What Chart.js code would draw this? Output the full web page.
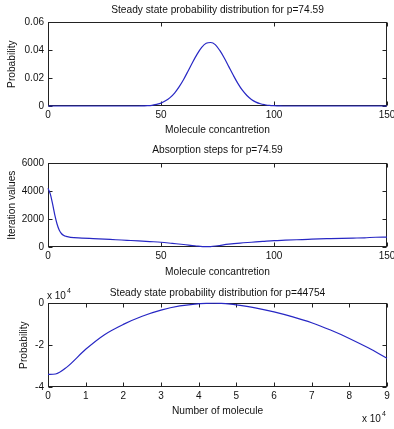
<!DOCTYPE html>
<html>
<head>
<meta charset="utf-8">
<script src="https://cdn.jsdelivr.net/npm/chart.js@4.4.1/dist/chart.umd.min.js"></script>
<style>
  body { margin: 0; background: #fff; }
  #wrap { position: relative; width: 394px; height: 429px; background: #fff; }
  canvas { position: absolute; left: 0; }
</style>
</head>
<body>
<div id="wrap">
  <canvas id="probChart" width="394" height="140" style="top:0px"></canvas>
  <canvas id="stepsChart" width="394" height="140" style="top:140px"></canvas>
  <canvas id="bigChart" width="394" height="149" style="top:280px"></canvas>
</div>
<script>
// top plot: steady state distribution, p=74.59
const concX = [0, 40, 42, 44, 46, 48, 50, 52, 54, 56, 58, 60, 62, 64, 66, 68, 70, 72, 74, 76, 78, 80, 82, 84, 86, 88, 90, 92, 94, 96, 98, 100, 102, 104, 150];
const probY = [0, 0, 0.0001, 0.0002, 0.0005, 0.0012, 0.0021, 0.0037, 0.0060, 0.0093, 0.0137, 0.0190, 0.0251, 0.0314, 0.0372, 0.0420, 0.0450, 0.0455, 0.0440, 0.0398, 0.0344, 0.0282, 0.0220, 0.0162, 0.0113, 0.0075, 0.0047, 0.0028, 0.0016, 0.0009, 0.0004, 0.0002, 0.0001, 0, 0];

// middle plot: absorption steps
const stepsX = [0, 1, 2, 3, 4, 5, 6, 7, 8, 10, 15, 20, 25, 30, 35, 40, 45, 50, 55, 60, 65, 70, 72, 75, 80, 85, 90, 95, 100, 105, 110, 115, 120, 125, 130, 135, 140, 145, 150];
const stepsY = [4200, 3800, 3100, 2300, 1650, 1200, 950, 820, 760, 690, 640, 600, 560, 520, 480, 440, 390, 340, 260, 180, 90, 20, 30, 90, 200, 280, 340, 400, 460, 490, 520, 550, 580, 600, 620, 640, 660, 700, 710];

// bottom plot: p=44754
const moleculeX = [0, 2000, 5000, 10000, 15000, 20000, 25000, 30000, 35000, 39000, 42000, 44000, 46000, 48500, 50000, 55000, 60000, 65000, 70000, 75000, 80000, 85000, 90000];
const bigProbY = [-34000, -33800, -30500, -22000, -15000, -10100, -6200, -3300, -1300, -400, -50, 0, -50, -400, -750, -2200, -4100, -6500, -9300, -12800, -16800, -21300, -26300];

const FONT = "'Liberation Sans', Arial, sans-serif";
const LINE_COLOR = '#2727c4';
Chart.defaults.font.family = FONT;
Chart.defaults.font.size = 10;
Chart.defaults.color = '#111';

// matlab style box with inward ticks
const matlabAxes = {
  id: 'matlabAxes',
  beforeDatasetsDraw(chart) {
    const { ctx, chartArea: a, scales: { x, y } } = chart;
    const l = Math.round(a.left) + 0.5, r = Math.round(a.right) - 0.5;
    const t = Math.round(a.top) + 0.5, b = Math.round(a.bottom) - 0.5;
    ctx.save();
    ctx.strokeStyle = '#222';
    ctx.lineWidth = 1;
    ctx.strokeRect(l, t, r - l, b - t);
    ctx.beginPath();
    x.ticks.forEach(tk => {
      const px = Math.round(x.getPixelForValue(tk.value)) + 0.5;
      ctx.moveTo(px, b); ctx.lineTo(px, b - 4);
      ctx.moveTo(px, t); ctx.lineTo(px, t + 4);
    });
    y.ticks.forEach(tk => {
      const py = Math.round(y.getPixelForValue(tk.value)) + 0.5;
      ctx.moveTo(l, py); ctx.lineTo(l + 4, py);
      ctx.moveTo(r, py); ctx.lineTo(r - 4, py);
    });
    ctx.stroke();
    ctx.restore();
  }
};

// "x 10^4" exponent labels for the bottom plot
const expLabels = {
  id: 'expLabels',
  afterDraw(chart) {
    const { ctx } = chart;
    ctx.save();
    ctx.fillStyle = '#111';
    ctx.textBaseline = 'middle';
    ctx.textAlign = 'left';
    function draw(x0, y0) {
      ctx.font = '10px ' + FONT;
      ctx.fillText('x 10', x0, y0);
      const w = ctx.measureText('x 10').width;
      ctx.font = '7px ' + FONT;
      ctx.fillText('4', x0 + w + 1, y0 - 5);
    }
    draw(47, 16);
    draw(362, 139);
    ctx.restore();
  }
};

function makeChart(id, xs, ys, opts) {
  const points = xs.map((v, i) => ({ x: v, y: ys[i] }));
  return new Chart(document.getElementById(id), {
    type: 'line',
    data: {
      datasets: [{
        data: points,
        borderColor: LINE_COLOR,
        borderWidth: 1.2,
        pointRadius: 0,
        fill: false,
        cubicInterpolationMode: 'monotone',
        clip: false
      }]
    },
    options: {
      responsive: false,
      animation: false,
      devicePixelRatio: 1,
      layout: { padding: { left: 0, right: 7, top: 0, bottom: 0 } },
      plugins: {
        legend: { display: false },
        tooltip: { enabled: false },
        title: {
          display: true,
          fullSize: false,
          text: opts.title,
          color: '#111',
          font: { size: 10.2, weight: 'normal' },
          padding: opts.titlePad
        }
      },
      scales: {
        x: {
          type: 'linear',
          min: opts.xMin, max: opts.xMax,
          grid: { display: false, drawTicks: false },
          border: { display: false },
          ticks: {
            stepSize: opts.xStep,
            autoSkip: false,
            maxRotation: 0,
            padding: 3,
            color: '#111',
            callback: opts.xFmt
          },
          title: {
            display: true,
            text: opts.xLabel,
            color: '#111',
            font: { size: 10.2 },
            padding: { top: 0, bottom: opts.xTitleBottom }
          },
          afterFit(scale) {
            scale.height = opts.xAxisHeight;
            scale.paddingLeft = 0;
            scale.paddingRight = 0;
          }
        },
        y: {
          type: 'linear',
          min: opts.yMin, max: opts.yMax,
          grid: { display: false, drawTicks: false },
          border: { display: false },
          ticks: {
            stepSize: opts.yStep,
            autoSkip: false,
            padding: 4,
            color: '#111',
            callback: opts.yFmt
          },
          title: {
            display: true,
            text: opts.yLabel,
            color: '#111',
            font: { size: 10.2 },
            padding: { top: opts.yTitlePad, bottom: 0 }
          },
          afterFit(scale) {
            scale.width = 48;
            scale.paddingTop = 0;
            scale.paddingBottom = 0;
          }
        }
      }
    },
    plugins: opts.extra ? [matlabAxes, opts.extra] : [matlabAxes]
  });
}

makeChart('probChart', concX, probY, {
  title: 'Steady state probability distribution for p=74.59',
  titlePad: { top: 4, bottom: 6 },
  xMin: 0, xMax: 150, xStep: 50,
  yMin: 0, yMax: 0.06, yStep: 0.02,
  xFmt: v => String(v),
  yFmt: v => String(+v.toFixed(2)),
  xLabel: 'Molecule concantretion',
  yLabel: 'Probability',
  xAxisHeight: 34, xTitleBottom: 4, yTitlePad: 6.5
});

makeChart('stepsChart', stepsX, stepsY, {
  title: 'Absorption steps for p=74.59',
  titlePad: { top: 4, bottom: 7 },
  xMin: 0, xMax: 150, xStep: 50,
  yMin: 0, yMax: 6000, yStep: 2000,
  xFmt: v => String(v),
  yFmt: v => String(v),
  xLabel: 'Molecule concantretion',
  yLabel: 'Iteration values',
  xAxisHeight: 33, xTitleBottom: 1.3, yTitlePad: 5.7
});

makeChart('bigChart', moleculeX, bigProbY, {
  title: 'Steady state probability distribution for p=44754',
  titlePad: { top: 6.7, bottom: 4.3 },
  xMin: 0, xMax: 90000, xStep: 10000,
  yMin: -40000, yMax: 0, yStep: 20000,
  xFmt: v => String(v / 10000),
  yFmt: v => String(v / 10000),
  xLabel: 'Number of molecule',
  yLabel: 'Probability',
  xAxisHeight: 42, xTitleBottom: 11.3, yTitlePad: 18.2,
  extra: expLabels
});
</script>
</body>
</html>
